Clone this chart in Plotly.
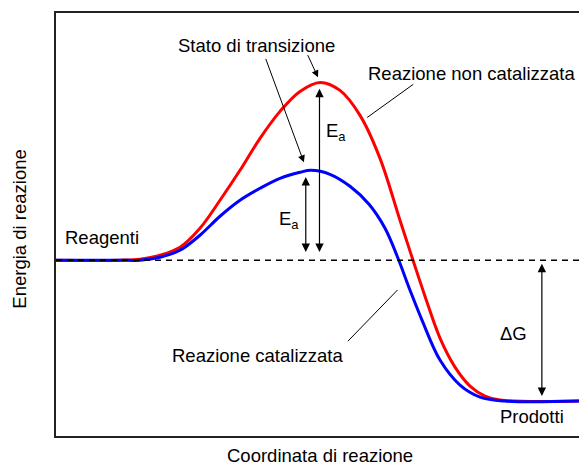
import plotly.graph_objects as go

# ---- data (reaction coordinate 0..100, energy 0..100, arbitrary units) ----
coord_uncat = [0, 12.24, 16.06, 19.89, 23.71, 27.53, 31.36, 35.18, 39.01, 42.83, 46.65, 50.48,
               54.30, 58.13, 61.95, 65.77, 68.26, 70.55, 73.42, 76.29, 79.16, 82.03, 84.89, 100]
energy_uncat = [41.56, 41.56, 41.79, 42.74, 44.63, 49.11, 55.73, 62.81, 70.37, 76.74, 81.46, 83.59,
                81.70, 75.80, 65.64, 51.0, 41.56, 33.06, 23.14, 16.29, 11.81, 9.45, 8.50, 8.26]

coord_cat = [0, 12.24, 16.06, 19.89, 23.71, 27.53, 31.36, 35.18, 39.01, 42.83, 46.65, 48.76,
             52.39, 56.21, 59.85, 62.91, 65.39, 67.69, 69.98, 73.42, 77.25, 81.07, 85.85, 100]
energy_cat = [41.56, 41.56, 41.56, 42.27, 43.92, 47.46, 51.95, 55.73, 58.56, 60.92, 62.34, 62.81,
              61.87, 59.03, 54.78, 49.11, 42.03, 34.47, 27.39, 17.95, 12.04, 9.21, 8.26, 8.26]

reactant_level = 41.56
product_level = 8.26
coord_range = [0, 100]
energy_range = [0, 100]

FONT = "Liberation Sans, Arial, sans-serif"
FS = 18.5

fig = go.Figure()
fig.add_trace(go.Scatter(x=coord_uncat, y=energy_uncat, mode="lines",
                         line=dict(color="#ff0000", width=3, shape="spline", smoothing=1.0),
                         hoverinfo="skip"))
fig.add_trace(go.Scatter(x=coord_cat, y=energy_cat, mode="lines",
                         line=dict(color="#0000ff", width=3, shape="spline", smoothing=1.0),
                         hoverinfo="skip"))
fig.add_trace(go.Scatter(x=coord_range, y=[reactant_level, reactant_level], mode="lines",
                         line=dict(color="black", width=1.5, dash="6px,5px"),
                         hoverinfo="skip"))

peak_uncat = max(energy_uncat)
peak_uncat_x = coord_uncat[energy_uncat.index(peak_uncat)]
peak_cat = max(energy_cat)
peak_cat_x = coord_cat[energy_cat.index(peak_cat)]

ann = []

def arrow(x, y, ax, ay, head=2, both=False, width=1.2, size=1.4):
    d = dict(x=x, y=y, ax=ax, ay=ay, xref="x", yref="y", axref="x", ayref="y",
             text="", showarrow=True, arrowhead=head, arrowsize=size, arrowwidth=width,
             arrowcolor="black", standoff=0, startstandoff=0)
    if both:
        d.update(arrowside="end+start", startarrowhead=head, startarrowsize=size)
    ann.append(d)

# Ea arrows
arrow(peak_uncat_x - 0.1, peak_uncat - 1.5, peak_uncat_x - 0.1, reactant_level + 1.6, both=True)
arrow(peak_cat_x - 1.0, peak_cat - 1.6, peak_cat_x - 1.0, reactant_level + 1.6, both=True)
# Delta G arrow
arrow(92.9, product_level + 1.2, 92.9, reactant_level - 0.5, both=True)
# transition state pointers
arrow(47.4, 64.7, 40.0, 89.5, width=1.0)
arrow(50.1, 84.8, 48.0, 90.4, width=1.0)
# label leader lines (no heads)
arrow(59.5, 75.3, 68.6, 83.4, head=0, width=1.0)
arrow(55.8, 22.4, 65.6, 34.9, head=0, width=1.0)

def label(x, y, text, xanchor="center", size=FS):
    ann.append(dict(x=x, y=y, xref="x", yref="y", text=text, showarrow=False,
                    xanchor=xanchor, yanchor="middle",
                    font=dict(family=FONT, size=size, color="black")))

label(38.4, 92.4, "Stato di transizione")
label(79.4, 85.7, "Reazione non catalizzata")
label(8.8, 47.0, "Reagenti")
label(38.6, 19.1, "Reazione catalizzata")
label(91.0, 4.5, "Prodotti")
label(87.4, 24.3, "ΔG")
label(53.5, 71.8, "E<sub>a</sub>")
label(44.5, 51.0, "E<sub>a</sub>")

# axis titles as annotations
ann.append(dict(x=(320 - 56) / 523, y=-0.047, xref="paper", yref="paper",
                text="Coordinata di reazione", showarrow=False, xanchor="center", yanchor="middle",
                font=dict(family=FONT, size=FS, color="black")))
ann.append(dict(x=-0.069, y=0.49, xref="paper", yref="paper",
                text="Energia di reazione", showarrow=False, textangle=-90,
                xanchor="center", yanchor="middle",
                font=dict(family=FONT, size=FS, color="black")))

fig.update_layout(
    width=579, height=465,
    margin=dict(l=56, r=0, t=13, b=29),
    plot_bgcolor="white", paper_bgcolor="white",
    showlegend=False,
    annotations=ann,
    xaxis=dict(range=coord_range, showgrid=False, zeroline=False, showticklabels=False,
               ticks="", showline=True, mirror=True, linecolor="#222222", linewidth=2),
    yaxis=dict(range=energy_range, showgrid=False, zeroline=False, showticklabels=False,
               ticks="", showline=True, mirror=False, linecolor="#222222", linewidth=2),
)

fig.write_html("out.html", config={"displayModeBar": False},
               post_script="document.body.style.margin='0';document.body.style.padding='0';"
                           "document.body.style.overflow='hidden';")
